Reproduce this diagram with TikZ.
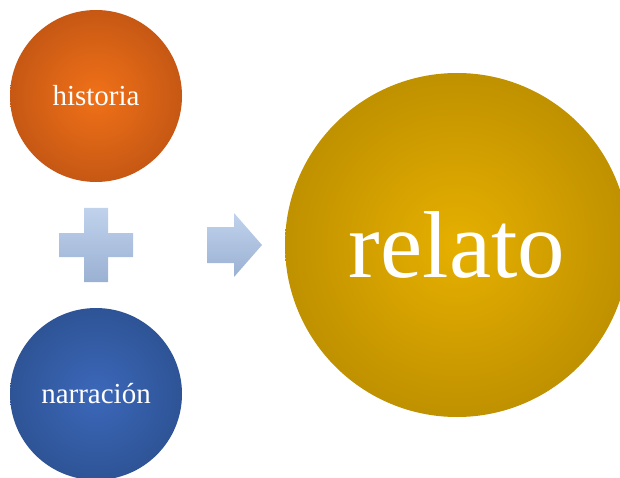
\documentclass[tikz,border=0pt]{standalone}
\usepackage{fontspec}
\setmainfont{Liberation Serif}
\definecolor{naranjaIn}{RGB}{241,113,24}
\definecolor{naranjaOut}{RGB}{198,88,20}
\definecolor{azulIn}{RGB}{60,104,186}
\definecolor{azulOut}{RGB}{46,84,150}
\definecolor{oroIn}{RGB}{230,176,0}
\definecolor{oroOut}{RGB}{192,145,0}
\definecolor{celesteTop}{RGB}{192,210,236}
\definecolor{celesteBot}{RGB}{155,177,211}
\tikzset{
  bola/.style={circle,inner sep=0pt,minimum size=172pt,text=white,
    font=\fontsize{29}{29}\selectfont},
  signo/.style={top color=celesteTop,bottom color=celesteBot,draw=none}
}
\begin{document}
\begin{tikzpicture}[x=1pt,y=1pt]
\useasboundingbox (0,0) rectangle (620,477);
\clip (0,0) rectangle (620,477);
\node[bola,inner color=naranjaIn,outer color=naranjaOut] (historia) at (96,381) {historia};
\node[bola,inner color=azulIn,outer color=azulOut] (narracion) at (96,83) {narración};
\node[bola,minimum size=344pt,inner color=oroIn,outer color=oroOut,
  font=\fontsize{95}{95}\selectfont] (relato) at (457,232) {relato};
\coordinate (mas) at (96,232);
\shade[signo] ([shift={(-12,37)}]mas) -- ([shift={(12,37)}]mas) -- ([shift={(12,12)}]mas)
  -- ([shift={(37,12)}]mas) -- ([shift={(37,-12)}]mas) -- ([shift={(12,-12)}]mas)
  -- ([shift={(12,-37)}]mas) -- ([shift={(-12,-37)}]mas) -- ([shift={(-12,-12)}]mas)
  -- ([shift={(-37,-12)}]mas) -- ([shift={(-37,12)}]mas) -- ([shift={(-12,12)}]mas) -- cycle;
\coordinate (flecha) at (262,232);
\shade[signo] ([shift={(-55,18)}]flecha) -- ([shift={(-28,18)}]flecha) -- ([shift={(-28,32)}]flecha)
  -- (flecha) -- ([shift={(-28,-32)}]flecha) -- ([shift={(-28,-18)}]flecha)
  -- ([shift={(-55,-18)}]flecha) -- cycle;
\end{tikzpicture}
\end{document}
